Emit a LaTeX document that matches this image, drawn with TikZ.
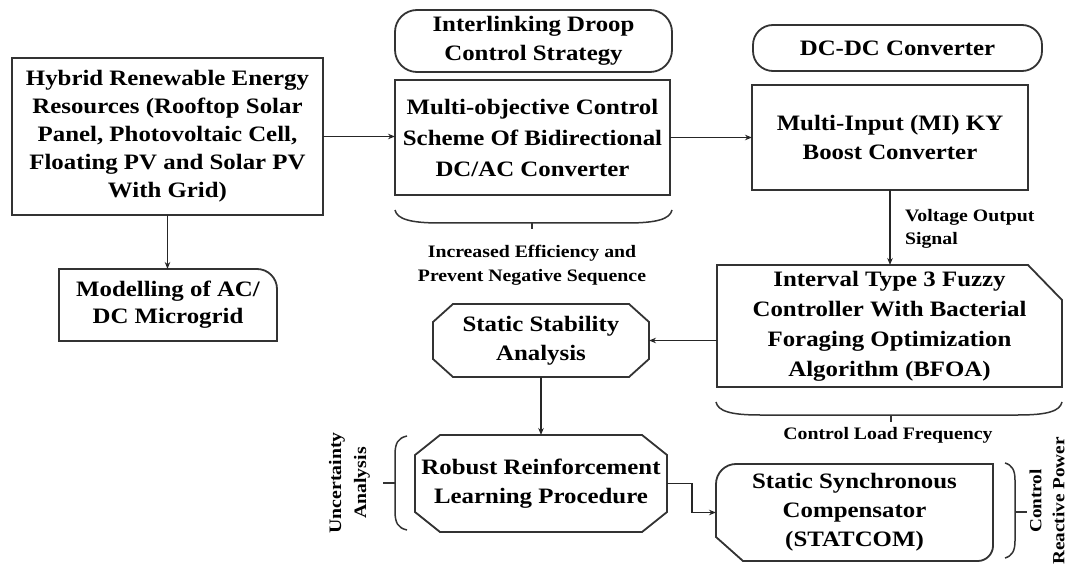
\documentclass[tikz,border=0pt]{standalone}
\usepackage{fontspec}
\setmainfont[FakeStretch=1.13]{Liberation Serif}
\usetikzlibrary{arrows.meta,calc}
\begin{document}
\begin{tikzpicture}[x=1pt,y=-1pt,
  every node/.style={inner sep=0pt, outer sep=0pt, align=center},
  mainf/.style={font=\bfseries\fontsize{22}{29}\selectfont},
  box/.style={mainf, draw=black!80, line width=1.8pt},
  plain/.style={mainf, draw=none},
  shp/.style={draw=black!80, line width=1.8pt, line join=miter},
  lbl/.style={font=\bfseries\fontsize{17.5}{24}\selectfont},
  arr/.style={draw=black!85, line width=1.5pt, -{Stealth[length=7pt,width=5.5pt]}},
  brc/.style={draw=black!80, line width=1.5pt},
]
\fill[white] (0,0) rectangle (1072,572);
\useasboundingbox (0,0) rectangle (1072,572);

% nodes
\node[box, minimum width=311pt, minimum height=157pt, font=\bfseries\fontsize{22}{28}\selectfont] (hre) at (167.5,136.5)
  {Hybrid Renewable Energy\\Resources (Rooftop Solar\\Panel, Photovoltaic Cell,\\Floating PV and Solar PV\\With Grid)};
\node[box, rounded corners=22pt, minimum width=277pt, minimum height=62pt] (idc) at (533.5,41)
  {Interlinking Droop\\Control Strategy};
\node[box, minimum width=275pt, minimum height=115pt, font=\bfseries\fontsize{22}{31}\selectfont] (mo) at (532.5,137.5)
  {Multi-objective Control\\Scheme Of Bidirectional\\DC/AC Converter};
\node[box, rounded corners=20pt, minimum width=289pt, minimum height=46pt] (dcdc) at (897.5,48)
  {DC-DC Converter};
\node[box, minimum width=276pt, minimum height=105pt] (mi) at (890,137.5)
  {Multi-Input (MI) KY\\Boost Converter};
\node[plain, minimum width=345pt, minimum height=122pt, font=\bfseries\fontsize{22}{30}\selectfont] (it3) at (889.5,326)
  {Interval Type 3 Fuzzy\\Controller With Bacterial\\Foraging Optimization\\Algorithm (BFOA)};
\node[plain, minimum width=216pt, minimum height=73pt] (ssa) at (541,340.5)
  {Static Stability\\Analysis};
\node[plain, minimum width=252pt, minimum height=97pt] (rrl) at (541,483.5)
  {Robust Reinforcement\\Learning Procedure};
\node[plain, minimum width=218pt, minimum height=72pt, font=\bfseries\fontsize{22}{27}\selectfont] (mod) at (168,305)
  {Modelling of AC/\\DC Microgrid};
\node[plain, minimum width=277pt, minimum height=97pt] (stat) at (854.5,512.5)
  {Static Synchronous\\Compensator\\(STATCOM)};

% outlines of special shapes
\draw[shp] (it3.north west) -- ($(it3.north east)+(-34,0)$) -- ($(it3.north east)+(0,35)$)
  -- (it3.south east) -- (it3.south west) -- cycle;
\draw[shp] ($(ssa.north west)+(20,0)$) -- ($(ssa.north east)+(-20,0)$) -- ($(ssa.north east)+(0,18)$)
  -- ($(ssa.south east)+(0,-18)$) -- ($(ssa.south east)+(-20,0)$) -- ($(ssa.south west)+(20,0)$)
  -- ($(ssa.south west)+(0,-18)$) -- ($(ssa.north west)+(0,18)$) -- cycle;
\draw[shp] ($(rrl.north west)+(25,0)$) -- ($(rrl.north east)+(-25,0)$) -- ($(rrl.north east)+(0,20)$)
  -- ($(rrl.south east)+(0,-20)$) -- ($(rrl.south east)+(-25,0)$) -- ($(rrl.south west)+(25,0)$)
  -- ($(rrl.south west)+(0,-20)$) -- ($(rrl.north west)+(0,20)$) -- cycle;
\draw[shp] (mod.south west) -- (mod.north west) -- ($(mod.north east)+(-20,0)$)
  .. controls ($(mod.north east)+(-9,0)$) and ($(mod.north east)+(0,9)$) .. ($(mod.north east)+(0,20)$)
  -- (mod.south east) -- cycle;
\draw[shp] ($(stat.south west)+(27,0)$) -- ($(stat.south west)+(0,-24)$) -- ($(stat.north west)+(0,20)$)
  .. controls ($(stat.north west)+(0,9)$) and ($(stat.north west)+(9,0)$) .. ($(stat.north west)+(20,0)$)
  -- (stat.north east) -- ($(stat.south east)+(0,-15)$)
  .. controls ($(stat.south east)+(0,-7)$) and ($(stat.south east)+(-7,0)$) .. ($(stat.south east)+(-15,0)$)
  -- cycle;

% labels
\node[lbl] (eff) at (532,265) {Increased Efficiency and\\Prevent Negative Sequence};
\node[lbl, anchor=west, align=left, font=\bfseries\fontsize{17.5}{23}\selectfont] (vos) at (905,228.5) {Voltage Output\\Signal};
\node[lbl] (clf) at (888,435) {Control Load Frequency};
\node[lbl, rotate=90, font=\bfseries\fontsize{17.5}{25}\selectfont] (ua) at (349.5,483) {Uncertainty\\Analysis};
\node[lbl, rotate=90, font=\bfseries\fontsize{17}{23}\selectfont] (crp) at (1047,501) {Control\\Reactive Power};

% braces
\draw[brc] (395,210) .. controls (397,219) and (410,223) .. (440,223) -- (627,223)
  .. controls (657,223) and (670,219) .. (672,210);
\coordinate (t1) at (532,223);
\draw[brc] (t1) -- ++(0,6);
\draw[brc] (716,402) .. controls (718,411) and (730,415) .. (760,415) -- (1018,415)
  .. controls (1048,415) and (1060,411) .. (1062,402);
\coordinate (t2) at (891,415);
\draw[brc] (t2) -- ++(0,7);
\draw[brc] (407,436) .. controls (398,438) and (395,443) .. (395,455) -- (395,511)
  .. controls (395,523) and (398,528) .. (407,530);
\coordinate (t3) at (395,483);
\draw[brc] (t3) -- ++(-12,0);
\draw[brc] (1005,463) .. controls (1012,465) and (1015,470) .. (1015,480) -- (1015,541)
  .. controls (1015,551) and (1012,556) .. (1005,558);
\coordinate (t4) at (1015,512);
\draw[brc] (t4) -- ++(12,0);

% connectors
\draw[arr] (hre.east) -- (hre.east -| mo.west);
\draw[arr] (mo.east) -- (mo.east -| mi.west);
\draw[arr] (mi.south) -- (mi.south |- it3.north);
\draw[arr] (it3.west |- ssa.east) -- (ssa.east);
\draw[arr] (ssa.south) -- (rrl.north);
\draw[arr] (rrl.east) -- ++(25,0) |- (stat.west);
\draw[arr] (hre.south) -- (hre.south |- mod.north);
\end{tikzpicture}
\end{document}
